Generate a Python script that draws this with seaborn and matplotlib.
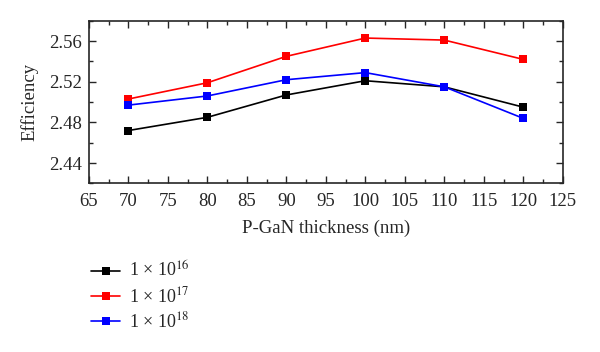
import numpy as np
import pandas as pd
import seaborn as sns
from matplotlib import pyplot as plt
from matplotlib.ticker import MultipleLocator

# %% data
thickness = [70, 80, 90, 100, 110, 120]
eff_1e16 = [2.472, 2.485, 2.507, 2.521, 2.515, 2.495]
eff_1e17 = [2.503, 2.519, 2.545, 2.563, 2.561, 2.542]
eff_1e18 = [2.497, 2.506, 2.522, 2.529, 2.515, 2.484]
doping_labels = ["1 × 10$^{16}$", "1 × 10$^{17}$", "1 × 10$^{18}$"]
colors = ["#000000", "#ff0000", "#0000ff"]

df = pd.DataFrame(
    {
        "thickness": thickness * 3,
        "efficiency": eff_1e16 + eff_1e17 + eff_1e18,
        "doping": np.repeat(doping_labels, len(thickness)),
    }
)

# %% style
sns.set_style("ticks")
plt.rcParams["font.family"] = ["Liberation Serif", "DejaVu Serif"]
plt.rcParams["mathtext.fontset"] = "stix"

fig = plt.figure(figsize=(6, 3.52), dpi=100)
ax = fig.add_axes([0.148, 0.479, 0.790, 0.462])

sns.lineplot(
    data=df,
    x="thickness",
    y="efficiency",
    hue="doping",
    hue_order=doping_labels,
    palette=colors,
    marker="s",
    markersize=6,
    markeredgewidth=0,
    linewidth=1.2,
    legend=True,
    ax=ax,
)

ax.set_xlim(65, 125)
ax.set_ylim(2.42, 2.58)
ax.xaxis.set_major_locator(MultipleLocator(5))
ax.xaxis.set_minor_locator(MultipleLocator(2.5))
ax.yaxis.set_major_locator(MultipleLocator(0.04))
ax.yaxis.set_minor_locator(MultipleLocator(0.02))
ax.tick_params(which="both", direction="in", top=True, right=True, labelsize=13.5)
ax.tick_params(which="major", length=5, width=1)
ax.tick_params(which="minor", length=3, width=1)
ax.tick_params(axis="x", pad=7)
ax.tick_params(axis="y", pad=5)
ax.set_yticks([2.44, 2.48, 2.52, 2.56])
ax.set_yticklabels(["2.44", "2.48", "2.52", "2.56"])
for s in ax.spines.values():
    s.set_linewidth(1.2)
ax.set_xlabel("P-GaN thickness (nm)", fontsize=13.5, labelpad=7)
ax.set_ylabel("Efficiency", fontsize=13.5, labelpad=7.5)

handles, labels = ax.get_legend_handles_labels()
ax.get_legend().remove()
fig.legend(
    handles,
    labels,
    loc="upper left",
    bbox_to_anchor=(0.125, 0.305),
    frameon=False,
    fontsize=13,
    handlelength=1.6,
    handletextpad=0.5,
    labelspacing=0.3,
)

fig.savefig("out.png", dpi=100)
